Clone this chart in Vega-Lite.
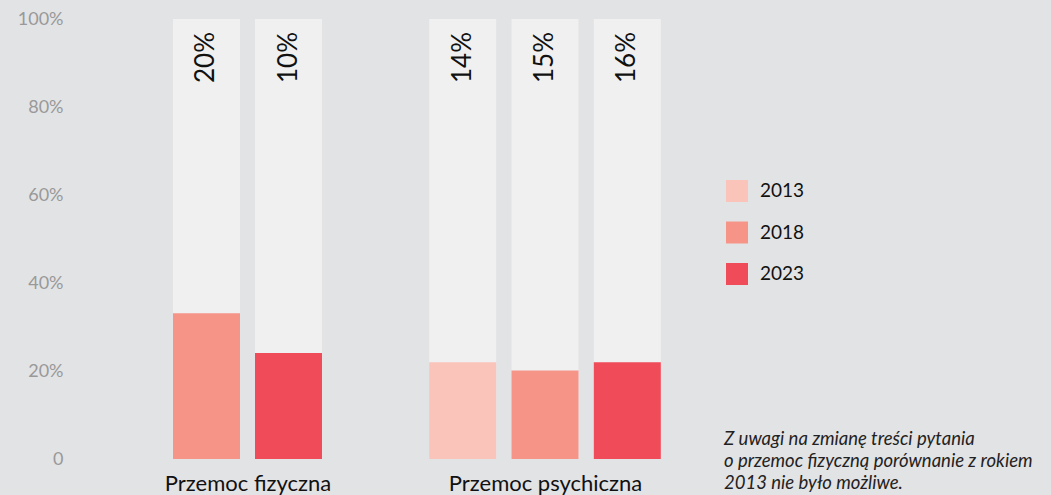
{
  "$schema": "https://vega.github.io/schema/vega-lite/v6.json",
  "autosize": "none",
  "padding": {"left": 91, "top": 19, "right": 960, "bottom": 476},
  "background": "#e2e3e5",
  "config": {"view": {"stroke": null}, "font": "Lato"},
  "datasets": {
    "d": [
      {"g": "Przemoc fizyczna", "year": "2018", "v": 0.331, "label": "20%"},
      {"g": "Przemoc fizyczna", "year": "2023", "v": 0.241, "label": "10%"},
      {"g": "Przemoc psychiczna", "year": "2013", "v": 0.22, "label": "14%"},
      {"g": "Przemoc psychiczna", "year": "2018", "v": 0.201, "label": "15%"},
      {"g": "Przemoc psychiczna", "year": "2023", "v": 0.22, "label": "16%"}
    ]
  },
  "data": {"name": "d"},
  "spacing": 0,
  "resolve": {"scale": {"x": "independent", "color": "independent"}, "legend": {"color": "independent"}},
  "hconcat": [
    {
      "width": 313,
      "height": 440,
      "transform": [{"filter": "datum.g == 'Przemoc fizyczna'"}],
      "encoding": {
        "x": {
          "field": "year", "type": "nominal", "title": "Przemoc fizyczna",
          "scale": {"paddingInner": 0.183, "paddingOuter": 1},
          "axis": {"labels": false, "ticks": false, "domain": false, "titleFontSize": 22, "titleFontWeight": "normal", "titleColor": "#111111", "titlePadding": 14, "titleFont": "Lato"}
        }
      },
      "layer": [
        {
          "mark": {"type": "bar", "color": "#f0f0f0"},
          "encoding": {
            "y": {
              "datum": 1, "type": "quantitative",
              "scale": {"domain": [0, 1], "nice": false},
              "axis": {"values": [0, 0.2, 0.4, 0.6, 0.8, 1], "labelExpr": "datum.value == 0 ? '0' : format(datum.value, '.0%')", "grid": false, "ticks": false, "domain": false, "labelColor": "#999999", "labelFontSize": 18, "labelPadding": 28, "title": null, "labelFont": "Lato"}
            }
          }
        },
        {
          "mark": {"type": "bar"},
          "encoding": {
            "y": {"field": "v", "type": "quantitative"},
            "color": {"field": "year", "type": "nominal", "scale": {"domain": ["2013", "2018", "2023"], "range": ["#fbc4bb", "#f69488", "#f04b58"]}, "legend": null}
          }
        },
        {
          "mark": {"type": "text", "angle": 270, "align": "right", "baseline": "middle", "dx": -13, "fontSize": 26, "color": "#111111", "font": "Lato"},
          "encoding": {
            "y": {"datum": 1, "type": "quantitative"},
            "text": {"field": "label"}
          }
        }
      ]
    },
    {
      "width": 282,
      "height": 440,
      "title": {
        "text": ["Z uwagi na zmianę treści pytania", "\u00a0o przemoc fizyczną porównanie z rokiem", "2013 nie było możliwe."],
        "orient": "bottom", "anchor": "start", "frame": "group", "align": "left",
        "font": "Lato", "fontStyle": "italic", "fontWeight": "normal", "fontSize": 18.5, "color": "#222222", "lineHeight": 22,
        "dx": 320, "dy": -68
      },
      "transform": [{"filter": "datum.g == 'Przemoc psychiczna'"}],
      "encoding": {
        "x": {
          "field": "year", "type": "nominal", "title": "Przemoc psychiczna",
          "scale": {"paddingInner": 0.186, "paddingOuter": 0.306},
          "axis": {"labels": false, "ticks": false, "domain": false, "titleFontSize": 22, "titleFontWeight": "normal", "titleColor": "#111111", "titlePadding": 14, "titleFont": "Lato"}
        }
      },
      "layer": [
        {
          "mark": {"type": "bar", "color": "#f0f0f0"},
          "encoding": {
            "y": {"datum": 1, "type": "quantitative", "scale": {"domain": [0, 1], "nice": false}, "axis": null}
          }
        },
        {
          "mark": {"type": "bar"},
          "encoding": {
            "y": {"field": "v", "type": "quantitative"},
            "color": {
              "field": "year", "type": "nominal",
              "scale": {"domain": ["2013", "2018", "2023"], "range": ["#fbc4bb", "#f69488", "#f04b58"]},
              "legend": {"orient": "none", "legendX": 322, "legendY": 161, "title": null, "symbolType": "square", "symbolSize": 484, "symbolStrokeWidth": 0, "symbolOpacity": 1, "labelFontSize": 19, "labelColor": "#111111", "labelFont": "Lato", "rowPadding": 19.5, "labelOffset": 12, "padding": 0}
            }
          }
        },
        {
          "mark": {"type": "text", "angle": 270, "align": "right", "baseline": "middle", "dx": -13, "fontSize": 26, "color": "#111111", "font": "Lato"},
          "encoding": {
            "y": {"datum": 1, "type": "quantitative"},
            "text": {"field": "label"}
          }
        }
      ]
    }
  ]
}
